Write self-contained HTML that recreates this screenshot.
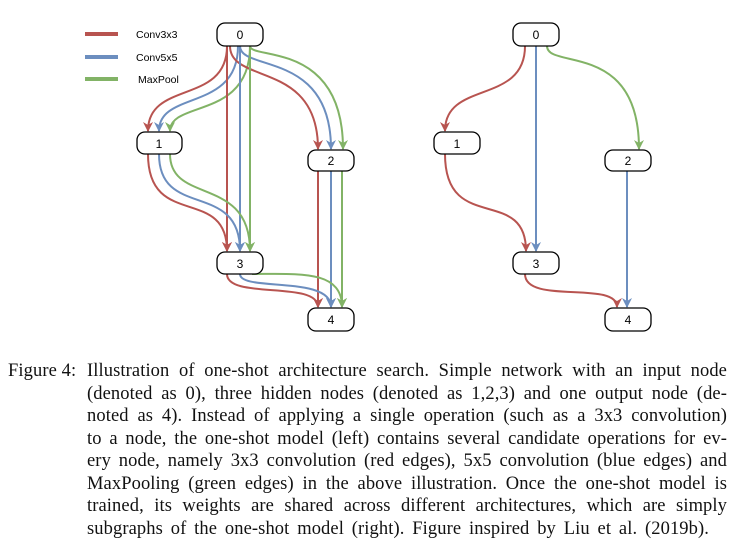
<!DOCTYPE html>
<html><head><meta charset="utf-8"><style>
body{margin:0;background:#fff;width:739px;height:548px;overflow:hidden;position:relative}
svg{position:absolute;left:0;top:0}
.cap{position:absolute;font-family:"Liberation Serif",serif;font-size:18.5px;letter-spacing:0.1px;color:#111}
.ln{position:absolute;left:87px;width:640px;text-align:justify;text-align-last:justify;white-space:nowrap}
</style></head><body>
<svg width="739" height="350" viewBox="0 0 739 350">
<defs>
<marker id="r" markerUnits="userSpaceOnUse" markerWidth="10" markerHeight="10" refX="9" refY="5" orient="auto" viewBox="0 0 10 10"><path d="M0,0 L3,5 L0,10 L10,5Z" fill="#b85450"/></marker>
<marker id="b" markerUnits="userSpaceOnUse" markerWidth="10" markerHeight="10" refX="9" refY="5" orient="auto" viewBox="0 0 10 10"><path d="M0,0 L3,5 L0,10 L10,5Z" fill="#6c8ebf"/></marker>
<marker id="g" markerUnits="userSpaceOnUse" markerWidth="10" markerHeight="10" refX="9" refY="5" orient="auto" viewBox="0 0 10 10"><path d="M0,0 L3,5 L0,10 L10,5Z" fill="#82b366"/></marker>
</defs>
<g fill="none" stroke-width="2">
<line x1="85" y1="34" x2="118" y2="34" stroke="#b85450" stroke-width="4"/>
<line x1="85" y1="57" x2="118" y2="57" stroke="#6c8ebf" stroke-width="4"/>
<line x1="85" y1="79" x2="118" y2="79" stroke="#82b366" stroke-width="4"/>
<path d="M227,46 C227,105 148,80 148,131" stroke="#b85450" marker-end="url(#r)"/>
<path d="M238,46 C238,112 159,90 159,131" stroke="#6c8ebf" marker-end="url(#b)"/>
<path d="M250,46 C250,120 170,100 170,131" stroke="#82b366" marker-end="url(#g)"/>
<path d="M230,46 C230,85 318,60 318,149" stroke="#b85450" marker-end="url(#r)"/>
<path d="M240,46 C240,72 331,50 331,149" stroke="#6c8ebf" marker-end="url(#b)"/>
<path d="M250,46 C250,60 343,40 343,149" stroke="#82b366" marker-end="url(#g)"/>
<path d="M227,46 L227,251" stroke="#b85450" marker-end="url(#r)"/>
<path d="M240,46 L240,251" stroke="#6c8ebf" marker-end="url(#b)"/>
<path d="M250,46 L250,251" stroke="#82b366" marker-end="url(#g)"/>
<path d="M148,154 C148,230 227,185 227,251" stroke="#b85450" marker-end="url(#r)"/>
<path d="M159,154 C159,220 240,180 240,251" stroke="#6c8ebf" marker-end="url(#b)"/>
<path d="M170,154 C170,205 250,175 250,251" stroke="#82b366" marker-end="url(#g)"/>
<path d="M318,171 L318,307" stroke="#b85450" marker-end="url(#r)"/>
<path d="M331,171 L331,307" stroke="#6c8ebf" marker-end="url(#b)"/>
<path d="M342,171 L342,307" stroke="#82b366" marker-end="url(#g)"/>
<path d="M227,274 C227,300 318,280 318,307" stroke="#b85450" marker-end="url(#r)"/>
<path d="M240,274 C240,292 331,275 331,307" stroke="#6c8ebf" marker-end="url(#b)"/>
<path d="M252,274 C300,274 342,270 342,307" stroke="#82b366" marker-end="url(#g)"/>
<path d="M525,46 C525,105 445,80 445,131" stroke="#b85450" marker-end="url(#r)"/>
<path d="M536,46 L536,251" stroke="#6c8ebf" marker-end="url(#b)"/>
<path d="M547,46 C547,70 639,40 639,149" stroke="#82b366" marker-end="url(#g)"/>
<path d="M445,154 C445,235 526,185 526,251" stroke="#b85450" marker-end="url(#r)"/>
<path d="M627,171 L627,307" stroke="#6c8ebf" marker-end="url(#b)"/>
<path d="M525,274 C525,305 617,280 617,307" stroke="#b85450" marker-end="url(#r)"/>
</g>
<g fill="#fff" stroke="#000" stroke-width="1.3">
<rect x="217" y="23" width="46" height="23" rx="8"/>
<rect x="137" y="132" width="45" height="22" rx="8"/>
<rect x="308" y="150" width="46" height="21" rx="8"/>
<rect x="217" y="252" width="46" height="22" rx="8"/>
<rect x="308" y="308" width="46" height="23" rx="8"/>
<rect x="513" y="23" width="46" height="23" rx="8"/>
<rect x="434" y="132" width="46" height="22" rx="8"/>
<rect x="605" y="150" width="46" height="21" rx="8"/>
<rect x="513" y="252" width="46" height="22" rx="8"/>
<rect x="605" y="308" width="46" height="23" rx="8"/>
</g>
<g font-family="Liberation Sans, sans-serif" font-size="12" text-anchor="middle" fill="#000">
<text x="240" y="39">0</text><text x="159" y="148">1</text><text x="331" y="165">2</text><text x="240" y="268">3</text><text x="331" y="324">4</text>
<text x="536" y="39">0</text><text x="457" y="148">1</text><text x="628" y="165">2</text><text x="536" y="268">3</text><text x="628" y="324">4</text>
</g>
<g font-family="Liberation Sans, sans-serif" font-size="10.5" fill="#000">
<text x="136" y="38">Conv3x3</text><text x="136" y="61">Conv5x5</text><text x="138" y="83">MaxPool</text>
</g>
</svg>
<div class="cap">
<div style="position:absolute;left:8px;top:361px;white-space:nowrap">Figure 4:</div>
<div class="ln" style="top:361px">Illustration of one-shot architecture search. Simple network with an input node</div>
<div class="ln" style="top:384px">(denoted as 0), three hidden nodes (denoted as 1,2,3) and one output node (de-</div>
<div class="ln" style="top:406px">noted as 4). Instead of applying a single operation (such as a 3x3 convolution)</div>
<div class="ln" style="top:429px">to a node, the one-shot model (left) contains several candidate operations for ev-</div>
<div class="ln" style="top:451px">ery node, namely 3x3 convolution (red edges), 5x5 convolution (blue edges) and</div>
<div class="ln" style="top:474px">MaxPooling (green edges) in the above illustration. Once the one-shot model is</div>
<div class="ln" style="top:496px">trained, its weights are shared across different architectures, which are simply</div>
<div class="ln" style="top:519px;width:622px">subgraphs of the one-shot model (right). Figure inspired by Liu et al. (2019b).</div>
</div>
</body></html>
